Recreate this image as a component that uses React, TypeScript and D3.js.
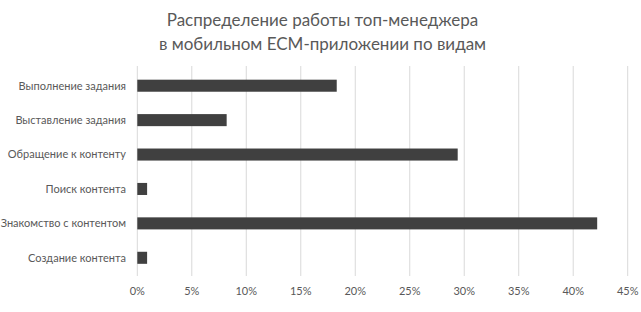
import React from "react";
import * as d3 from "d3";

const categories = [
  "Выполнение задания",
  "Выставление задания",
  "Обращение к контенту",
  "Поиск контента",
  "Знакомство с контентом",
  "Создание контента",
];
const values = [18.3, 8.2, 29.4, 0.9, 42.2, 0.9];
const ticks = [0, 5, 10, 15, 20, 25, 30, 35, 40, 45];
const titleLines = [
  "Распределение работы топ-менеджера",
  "в мобильном ECM-приложении по видам",
];

const W = 641;
const H = 312;
const FONT = "Lato, 'Noto Sans', sans-serif";

export default function App() {
  const x = d3.scaleLinear().domain([0, 45]).range([137.3, 627.7]);
  const y = d3.scaleBand().domain(categories).range([68.5, 275]).paddingInner(0.65).paddingOuter(0.325);
  return (
    <svg width={W} height={H} style={{ position: "absolute", left: 0, top: 0, background: "#fff" }}>
      <rect width={W} height={H} fill="#fff" />
      {titleLines.map((t, i) => (
        <text key={i} x={322.5} y={26 + i * 24} textAnchor="middle" fontFamily={FONT} fontSize={17} fill="#595959">
          {t}
        </text>
      ))}
      {ticks.map((t) => (
        <g key={t}>
          <line x1={x(t)} x2={x(t)} y1={66} y2={276} stroke="#d9d9d9" strokeWidth={1} />
          <text x={x(t)} y={295} textAnchor="middle" fontFamily={FONT} fontSize={11} fill="#595959">
            {t}%
          </text>
        </g>
      ))}
      {categories.map((c, i) => (
        <g key={c}>
          <rect x={x(0)} y={y(c)} width={x(values[i]) - x(0)} height={y.bandwidth()} fill="#404040" />
          <text x={126} y={(y(c) as number) + y.bandwidth() / 2} dy="0.35em" textAnchor="end" fontFamily={FONT} fontSize={11} fill="#595959">
            {c}
          </text>
        </g>
      ))}
    </svg>
  );
}
